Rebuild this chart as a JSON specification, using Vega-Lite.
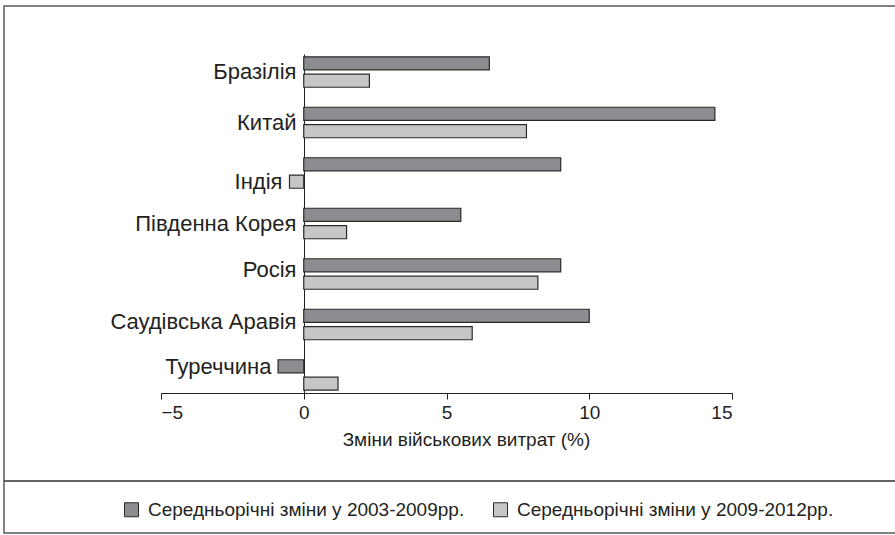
{
  "$schema": "https://vega.github.io/schema/vega-lite/v6.json",
  "padding": {"left": 3, "top": 5, "right": 0, "bottom": 0},
  "autosize": {"type": "pad"},
  "spacing": 0,
  "bounds": "flush",
  "background": "white",
  "resolve": {"scale": {"color": "independent"}, "legend": {"color": "independent"}},
  "config": {
    "font": "Liberation Sans",
    "view": {"stroke": "#5a5a5a", "strokeWidth": 1.5}
  },
  "data": {
    "values": [
      {"country": "Бразілія", "series": "Середньорічні зміни у 2003-2009рр.", "value": 6.5},
      {"country": "Бразілія", "series": "Середньорічні зміни у 2009-2012рр.", "value": 2.3},
      {"country": "Китай", "series": "Середньорічні зміни у 2003-2009рр.", "value": 14.4},
      {"country": "Китай", "series": "Середньорічні зміни у 2009-2012рр.", "value": 7.8},
      {"country": "Індія", "series": "Середньорічні зміни у 2003-2009рр.", "value": 9.0},
      {"country": "Індія", "series": "Середньорічні зміни у 2009-2012рр.", "value": -0.5},
      {"country": "Південна Корея", "series": "Середньорічні зміни у 2003-2009рр.", "value": 5.5},
      {"country": "Південна Корея", "series": "Середньорічні зміни у 2009-2012рр.", "value": 1.5},
      {"country": "Росія", "series": "Середньорічні зміни у 2003-2009рр.", "value": 9.0},
      {"country": "Росія", "series": "Середньорічні зміни у 2009-2012рр.", "value": 8.2},
      {"country": "Саудівська Аравія", "series": "Середньорічні зміни у 2003-2009рр.", "value": 10.0},
      {"country": "Саудівська Аравія", "series": "Середньорічні зміни у 2009-2012рр.", "value": 5.9},
      {"country": "Туреччина", "series": "Середньорічні зміни у 2003-2009рр.", "value": -0.9},
      {"country": "Туреччина", "series": "Середньорічні зміни у 2009-2012рр.", "value": 1.2}
    ]
  },
  "vconcat": [
    {
      "width": 893,
      "height": 475,
      "mark": {"type": "bar", "stroke": "#2a2a2a", "strokeWidth": 1.2},
      "encoding": {
        "y": {
          "field": "country",
          "type": "nominal",
          "sort": ["Бразілія", "Китай", "Індія", "Південна Корея", "Росія", "Саудівська Аравія", "Туреччина"],
          "scale": {"range": [48, 387], "paddingInner": 0.396, "paddingOuter": 0.055},
          "axis": {
            "title": null,
            "offset": -300,
            "ticks": false,
            "tickSize": 0,
            "labelLimit": 0,
            "labelFontSize": 22,
            "labelColor": "#231f20",
            "domainColor": "#231f20",
            "domainWidth": 1,
            "labelPadding": {
              "condition": [
                {"test": "datum.value === 'Індія'", "value": 22},
                {"test": "datum.value === 'Туреччина'", "value": 33}
              ],
              "value": 8
            },
            "labelOffset": {
              "condition": [
                {"test": "datum.value === 'Індія'", "value": 9},
                {"test": "datum.value === 'Туреччина'", "value": -8},
                {"test": "datum.value === 'Росія'", "value": -4},
                {"test": "datum.value === 'Саудівська Аравія'", "value": -2}
              ],
              "value": 0
            }
          }
        },
        "yOffset": {
          "field": "series",
          "type": "nominal",
          "scale": {"paddingInner": 0.25, "paddingOuter": 0}
        },
        "x": {
          "field": "value",
          "type": "quantitative",
          "title": "Зміни військових витрат (%)",
          "scale": {"domain": [-5, 15], "range": [157, 728], "nice": false, "zero": false},
          "axis": {
            "values": [-5, 0, 5, 10, 15],
            "offset": -88,
            "grid": false,
            "tickSize": 6,
            "tickColor": "#231f20",
            "domainColor": "#231f20",
            "labelFontSize": 19,
            "labelColor": "#231f20",
            "labelPadding": 4,
            "titleFontSize": 19,
            "titleFontWeight": "normal",
            "titleColor": "#231f20",
            "titleX": 462,
            "titleY": 46,
            "titleBaseline": "middle"
          }
        },
        "x2": {"datum": 0},
        "color": {
          "field": "series",
          "type": "nominal",
          "scale": {
            "domain": ["Середньорічні зміни у 2003-2009рр.", "Середньорічні зміни у 2009-2012рр."],
            "range": ["#8c8d91", "#c5c6c8"]
          },
          "legend": null
        }
      }
    },
    {
      "width": 893,
      "height": 52,
      "mark": {"type": "square", "opacity": 0},
      "encoding": {
        "x": {"field": "series", "type": "nominal", "axis": null},
        "y": {"field": "series", "type": "nominal", "axis": null},
        "color": {
          "field": "series",
          "type": "nominal",
          "scale": {
            "domain": ["Середньорічні зміни у 2003-2009рр.", "Середньорічні зміни у 2009-2012рр."],
            "range": ["#8c8d91", "#c5c6c8"]
          },
          "legend": {
            "title": null,
            "orient": "none",
            "direction": "horizontal",
            "legendX": 118,
            "legendY": 19,
            "symbolType": "square",
            "symbolSize": 196,
            "symbolStrokeColor": "#2a2a2a",
            "symbolStrokeWidth": 1,
            "symbolOpacity": 1,
            "labelFontSize": 19,
            "labelLimit": 0,
            "labelColor": "#231f20",
            "labelOffset": 7,
            "columnPadding": 26,
            "padding": 0
          }
        }
      }
    }
  ]
}
